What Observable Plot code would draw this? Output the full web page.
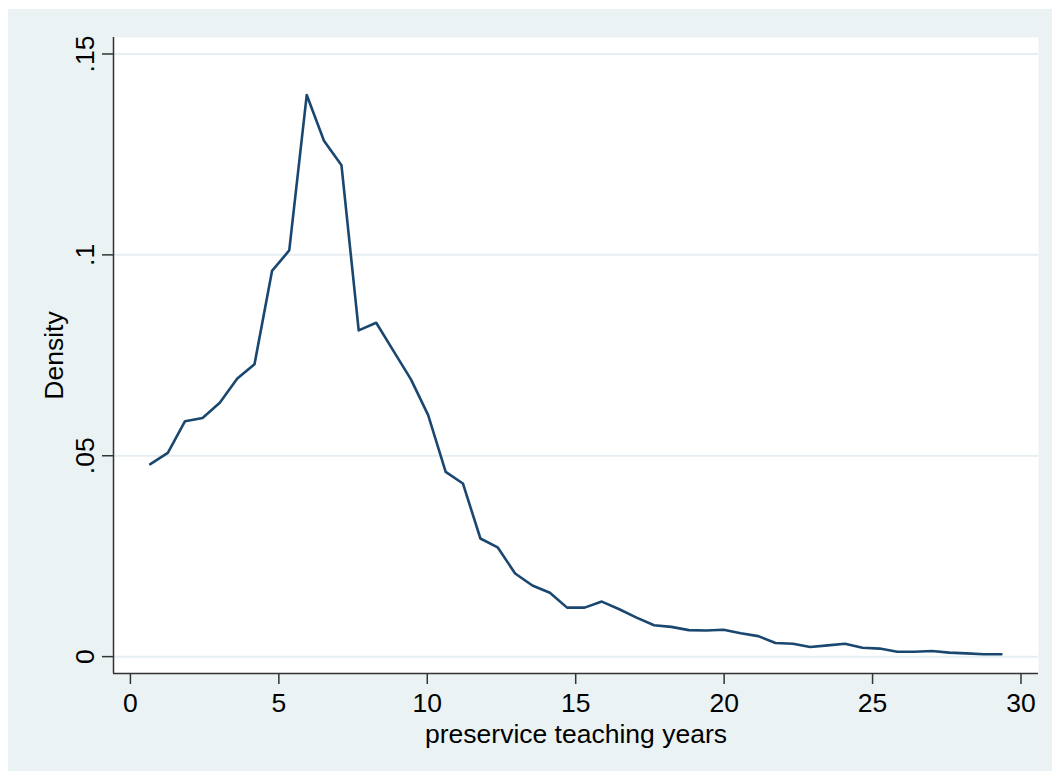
<!DOCTYPE html>
<html><head><meta charset="utf-8">
<script src="https://cdn.jsdelivr.net/npm/d3@7"></script>
<script src="https://cdn.jsdelivr.net/npm/@observablehq/plot@0.6"></script>
<style>
html,body{margin:0;padding:0;background:#fff;}
#chart{position:absolute;left:8px;top:9px;}
#chart svg{display:block;}
</style></head><body><div id="chart"></div>
<script>
const years = [0.67,1.26,1.84,2.43,3.01,3.60,4.18,4.77,5.35,5.94,6.52,7.11,7.69,8.28,8.86,9.45,10.03,10.62,11.20,11.79,12.37,12.96,13.54,14.13,14.71,15.30,15.88,16.47,17.05,17.64,18.22,18.81,19.39,19.98,20.56,21.15,21.73,22.32,22.90,23.49,24.07,24.66,25.24,25.83,26.41,27.00,27.58,28.17,28.75,29.34];
const density = [0.0479,0.0507,0.0586,0.0594,0.0632,0.0692,0.0728,0.0960,0.1011,0.1398,0.1284,0.1223,0.0812,0.0831,0.0761,0.0690,0.0601,0.0460,0.0431,0.0294,0.0272,0.0207,0.0177,0.0159,0.0122,0.0122,0.0137,0.0118,0.0097,0.0078,0.0074,0.0066,0.0065,0.0067,0.0058,0.0051,0.0034,0.0032,0.0024,0.0028,0.0032,0.0022,0.0020,0.0012,0.0012,0.0014,0.0010,0.0008,0.0006,0.0006];
const xTicks = [0,5,10,15,20,25,30];
const yTicks = [0,0.05,0.1,0.15];
const yTickLabels = ["0",".05",".1",".15"];
const xLabel = "preservice teaching years";
const yLabel = "Density";
const xDomain = [-0.57, 30.59];
const yDomain = [-0.0042, 0.1541];

const data = years.map((x,i)=>({x, y: density[i]}));
const font = "'Liberation Sans', Arial, Helvetica, sans-serif";
const axisColor = "#333";
const fs = 26.5;

const chart = Plot.plot({
  width: 1044, height: 762,
  marginLeft: 105, marginTop: 28, marginRight: 14, marginBottom: 98,
  style: {background:"#eaf2f3", fontFamily: font, fontSize: fs + "px", color:"#000"},
  x: {domain: xDomain},
  y: {domain: yDomain},
  marks: [
    Plot.frame({fill:"white", stroke:"none"}),
    Plot.ruleY(yTicks, {stroke:"#e6eef1", strokeWidth:2}),
    Plot.line(data, {x:"x", y:"y", stroke:"#1a476f", strokeWidth:2.6}),
    Plot.ruleX([xDomain[0]], {stroke:axisColor, strokeWidth:1.5}),
    Plot.ruleY([yDomain[0]], {stroke:axisColor, strokeWidth:1.5}),
    Plot.axisX({ticks:xTicks, tickSize:11, tickPadding:9, label:null, fontSize:fs, stroke:axisColor, strokeWidth:1.5, fill:"#000"}),
    Plot.axisY({ticks:yTicks, tickSize:11, tickFormat:()=>"", label:null, stroke:axisColor, strokeWidth:1.5}),
    Plot.text(yTicks, {y: d=>d, text:(d,i)=>yTickLabels[i], frameAnchor:"left", rotate:-90, dx:-20, textAnchor:"middle", lineAnchor:"bottom", fontSize:fs, fill:"#000"}),
    Plot.text([xLabel], {text:d=>d, frameAnchor:"bottom", dy:69, textAnchor:"middle", lineAnchor:"bottom", fontSize:fs, fill:"#000"}),
    Plot.text([yLabel], {text:d=>d, frameAnchor:"left", rotate:-90, dx:-51, textAnchor:"middle", lineAnchor:"bottom", fontSize:fs, fill:"#000"})
  ]
});
document.getElementById("chart").appendChild(chart);
</script></body></html>
